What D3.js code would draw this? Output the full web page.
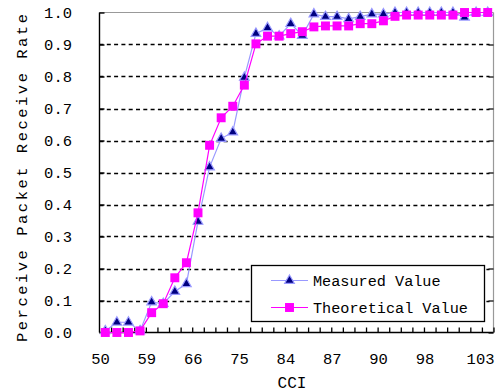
<!DOCTYPE html>
<html>
<head>
<meta charset="utf-8">
<script src="https://cdn.jsdelivr.net/npm/d3@7"></script>
<style>
  body { margin: 0; background: #fff; }
  text { font-family: "Liberation Mono", "DejaVu Sans Mono", monospace; fill: #000; }
</style>
</head>
<body>
<svg id="chart" width="496" height="392"></svg>
<script>
// Category axis labels (one label every four categories, last one at the end)
const xTickLabels = ["50", "59", "66", "75", "84", "87", "90", "98", "103"];
const yTicks = [0, 0.1, 0.2, 0.3, 0.4, 0.5, 0.6, 0.7, 0.8, 0.9, 1.0];

// Packet receive rate per CCI category
const measured = [
  0.005, 0.032, 0.032, 0.005, 0.095, 0.09, 0.128, 0.152, 0.347, 0.517,
  0.606, 0.626, 0.797, 0.934, 0.952, 0.926, 0.965, 0.928, 0.995, 0.987,
  0.987, 0.98, 0.987, 0.995, 0.995, 1.0, 1.0, 1.0, 1.0, 1.0,
  1.0, 0.985, 1.0, 1.0
];
const theoretical = [
  0.0, 0.0, 0.0, 0.005, 0.062, 0.09, 0.171, 0.218, 0.374, 0.585,
  0.671, 0.707, 0.773, 0.902, 0.926, 0.926, 0.934, 0.94, 0.955, 0.958,
  0.958, 0.958, 0.965, 0.965, 0.974, 0.988, 0.992, 0.992, 0.992, 0.992,
  0.992, 1.0, 1.0, 1.0
];

const seriesNames = ["Measured Value", "Theoretical Value"];

const svg = d3.select("#chart");
const plot = { left: 99.5, right: 493.5, top: 12.5, bottom: 332.5 };
const nCat = measured.length;

const x = d3.scaleLinear().domain([0, nCat]).range([plot.left, plot.right]);
const y = d3.scaleLinear().domain([0, 1]).range([plot.bottom, plot.top]);

// dashed horizontal gridlines
svg.append("g").selectAll("line")
  .data(yTicks.filter(d => d > 0 && d < 1))
  .join("line")
  .attr("x1", plot.left).attr("x2", plot.right - 4)
  .attr("y1", d => Math.round(y(d)) + 0.5).attr("y2", d => Math.round(y(d)) + 0.5)
  .attr("stroke", "#000").attr("stroke-width", 1.5)
  .attr("stroke-dasharray", "4,3.3");

// frame: grey top/right, black left/bottom
svg.append("line").attr("x1", plot.left).attr("x2", plot.right)
  .attr("y1", plot.top).attr("y2", plot.top).attr("stroke", "#999").attr("stroke-width", 1.2);
svg.append("line").attr("x1", plot.right).attr("x2", plot.right)
  .attr("y1", plot.top).attr("y2", plot.bottom).attr("stroke", "#999").attr("stroke-width", 1.2);

// left axis with inward ticks
const yAxisL = d3.axisRight(y).tickValues(yTicks).tickSize(5).tickFormat("");
const gL = svg.append("g").attr("transform", `translate(${plot.left},0)`).call(yAxisL);
gL.select(".domain").attr("stroke", "#000").attr("stroke-width", 1.4).attr("d", `M0,${plot.top}V${plot.bottom}`);
gL.selectAll(".tick line").attr("stroke", "#000").attr("stroke-width", 1.4);

// right axis inward ticks
const yAxisR = d3.axisLeft(y).tickValues(yTicks.filter(d => d < 1)).tickSize(5).tickFormat("");
const gR = svg.append("g").attr("transform", `translate(${plot.right},0)`).call(yAxisR);
gR.select(".domain").remove();
gR.selectAll(".tick line").attr("stroke", "#000").attr("stroke-width", 1.2);

// y tick labels
svg.append("g").selectAll("text")
  .data(yTicks)
  .join("text")
  .attr("x", 72).attr("y", d => y(d) + 1)
  .attr("text-anchor", "end").attr("dominant-baseline", "central")
  .attr("font-size", 15.5)
  .text(d => d.toFixed(1));

// bottom axis: one tick per category boundary, pointing up
const xAxis = d3.axisTop(x).tickValues(d3.range(1, nCat + 1)).tickSize(5).tickFormat("");
const gB = svg.append("g").attr("transform", `translate(0,${plot.bottom})`).call(xAxis);
gB.select(".domain").attr("stroke", "#000").attr("stroke-width", 1.6).attr("d", `M${plot.left},0H${plot.right}`);
gB.selectAll(".tick line").attr("stroke", "#000").attr("stroke-width", 1.3);

// category labels
svg.append("g").selectAll("text")
  .data(xTickLabels)
  .join("text")
  .attr("x", (d, i) => i < xTickLabels.length - 1 ? x(i * 4) + 1 : plot.right + 1)
  .attr("y", 360)
  .attr("text-anchor", (d, i) => i < xTickLabels.length - 1 ? "middle" : "end")
  .attr("dominant-baseline", "central")
  .attr("font-size", 15.5)
  .text(d => d);

// axis titles
svg.append("text")
  .attr("x", 292).attr("y", 384)
  .attr("text-anchor", "middle").attr("dominant-baseline", "central")
  .attr("font-size", 16)
  .text("CCI");

svg.append("text")
  .attr("transform", "translate(23,178) rotate(-90)")
  .attr("text-anchor", "middle").attr("dominant-baseline", "central")
  .attr("font-size", 15.5)
  .attr("textLength", 328).attr("lengthAdjust", "spacing")
  .text("Perceive  Packet  Receive Rate");

// series drawing
const cx = i => x(i + 0.5);
const line = d3.line().x((d, i) => cx(i)).y(d => y(d));

const triangle = d3.symbol().type(d3.symbolTriangle).size(40);
const square = d3.symbol().type(d3.symbolSquare).size(80);

function drawMeasured(g, data) {
  g.append("path").datum(data).attr("d", line)
    .attr("fill", "none").attr("stroke", "#9999ff").attr("stroke-width", 1.2);
  g.selectAll("path.m").data(data).join("path").attr("class", "m")
    .attr("transform", (d, i) => `translate(${cx(i)},${y(d)})`)
    .attr("d", triangle)
    .attr("fill", "#000080").attr("stroke", "#9999ff").attr("stroke-width", 1.2);
}
function drawTheoretical(g, data) {
  g.append("path").datum(data).attr("d", line)
    .attr("fill", "none").attr("stroke", "#ff00ff").attr("stroke-width", 1.2);
  g.selectAll("path.m").data(data).join("path").attr("class", "m")
    .attr("transform", (d, i) => `translate(${cx(i)},${y(d)})`)
    .attr("d", square)
    .attr("fill", "#ff00ff");
}
drawMeasured(svg.append("g"), measured);
drawTheoretical(svg.append("g"), theoretical);

// legend
const lg = svg.append("g");
lg.append("rect")
  .attr("x", 251.5).attr("y", 265.5).attr("width", 233).attr("height", 56)
  .attr("fill", "#fff").attr("stroke", "#000").attr("stroke-width", 1.3);
const rows = [280.5, 307.5];
seriesNames.forEach((name, k) => {
  const ry = rows[k];
  lg.append("line").attr("x1", 271).attr("x2", 308).attr("y1", ry).attr("y2", ry)
    .attr("stroke", k === 0 ? "#9999ff" : "#ff00ff").attr("stroke-width", 1.2);
  const mk = lg.append("path").attr("transform", `translate(289.5,${ry})`);
  if (k === 0) {
    mk.attr("d", triangle).attr("fill", "#000080").attr("stroke", "#9999ff").attr("stroke-width", 1.2);
  } else {
    mk.attr("d", square).attr("fill", "#ff00ff");
  }
  lg.append("text").attr("x", 313).attr("y", ry + 1)
    .attr("dominant-baseline", "central").attr("font-size", 15.2)
    .text(name);
});
</script>
</body>
</html>
